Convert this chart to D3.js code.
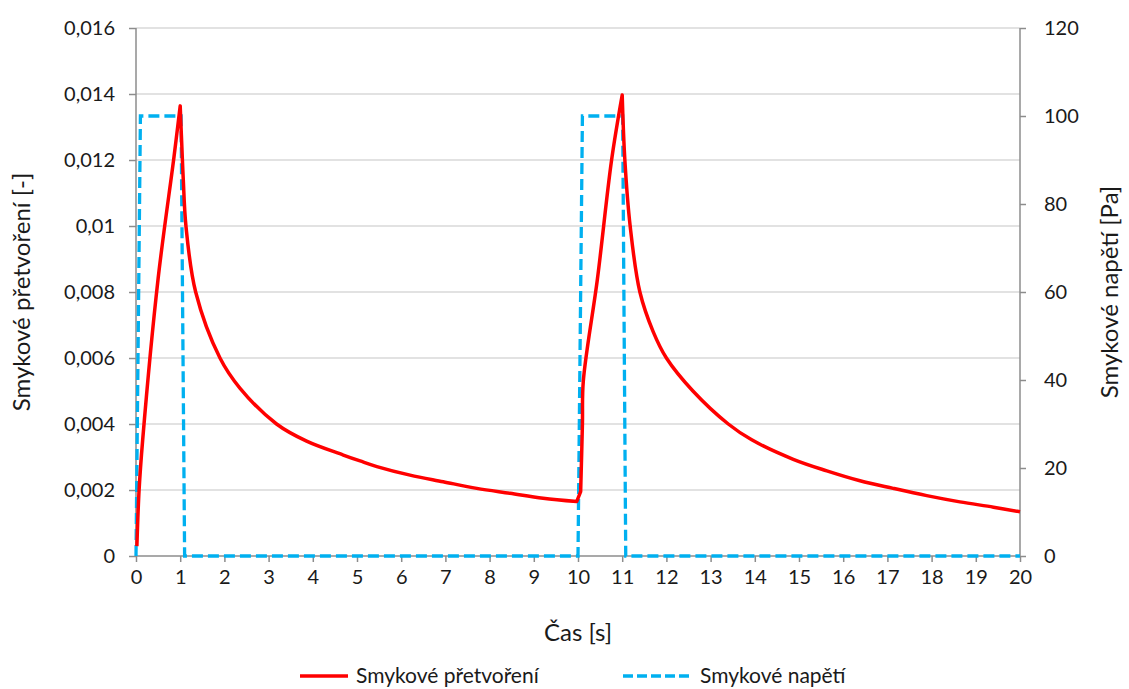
<!DOCTYPE html>
<html>
<head>
<meta charset="utf-8">
<script src="https://cdn.jsdelivr.net/npm/d3@7"></script>
<style>
  body { margin: 0; background: #fff; }
  text { font-family: Lato, "Open Sans", sans-serif; fill: #1a1a1a; }
</style>
</head>
<body>
<svg id="chart"></svg>
<script>
// strain readings [time s, strain -]
const strainTime = [0.02, 0.07, 0.15, 0.5, 0.86, 1.0, 1.05, 1.07, 1.13, 1.35, 1.9, 2.35, 3.18, 3.86, 4.69, 5.07, 5.45, 6.2, 6.95, 7.71, 8.46, 9.21, 9.97,
  10.06, 10.1, 10.12, 10.44, 10.76, 11.0, 11.06, 11.18, 11.4, 11.7, 12.0, 12.6, 13.4, 13.93, 14.87, 15.63, 16.38, 17.13, 17.89, 18.64, 19.4, 20];
const strainValues = [0.0003, 0.002, 0.0035, 0.0084, 0.0121, 0.01364, 0.012, 0.0114, 0.01, 0.008, 0.006, 0.00509, 0.004, 0.00348, 0.00306, 0.00288, 0.00271, 0.00245, 0.00225, 0.00205, 0.0019, 0.00175, 0.00165,
  0.00195, 0.004, 0.0053, 0.0084, 0.012, 0.01397, 0.012, 0.01, 0.008, 0.0068, 0.006, 0.005, 0.004, 0.00352, 0.00293, 0.00258, 0.00228, 0.00205, 0.00183, 0.00164, 0.00148, 0.00134];
// indices where the curve has a corner (peaks, start of second load)
const strainBreaks = [5, 22, 23, 28];

// stress readings [time s, stress Pa]
const stressTime = [0, 0.1, 1.02, 1.1, 10.0, 10.1, 11.01, 11.08, 20];
const stressValues = [0, 100, 100, 0, 0, 100, 100, 0, 0];

const xTicks = d3.range(0, 21, 1);
const leftTicks = [0, 0.002, 0.004, 0.006, 0.008, 0.01, 0.012, 0.014, 0.016];
const rightTicks = [0, 20, 40, 60, 80, 100, 120];

const width = 1129;
const height = 689;
const margin = { left: 136, right: 109, top: 28, bottom: 133 };

const svg = d3.select('#chart')
    .attr('width', width)
    .attr('height', height);

const x = d3.scaleLinear().domain([0, 20]).range([margin.left, width - margin.right]);
const yL = d3.scaleLinear().domain([0, 0.016]).range([height - margin.bottom, margin.top]);
const yR = d3.scaleLinear().domain([0, 120]).range([height - margin.bottom, margin.top]);

const fmt = d => d3.format('')(d).replace('.', ',');

// gridlines
svg.append('g')
    .selectAll('line')
    .data(leftTicks.slice(1))
    .enter()
    .append('line')
    .attr('x1', x(0)).attr('x2', x(20))
    .attr('y1', d => yL(d)).attr('y2', d => yL(d))
    .attr('stroke', '#d9d9d9')
    .attr('stroke-width', 1.3);

// axes
const xAxis = d3.axisBottom(x).tickValues(xTicks).tickSize(6).tickPadding(8).tickFormat(d => d);
const leftAxis = d3.axisLeft(yL).tickValues(leftTicks).tickSize(7).tickPadding(14).tickFormat(fmt);
const rightAxis = d3.axisRight(yR).tickValues(rightTicks).tickSize(6).tickPadding(18).tickFormat(d => d);

function styleAxis(g) {
    g.select('.domain').attr('stroke', '#8c8c8c').attr('stroke-width', 1.5);
    g.selectAll('.tick line').attr('stroke', '#8c8c8c').attr('stroke-width', 1.5);
    g.selectAll('.tick text').style('font-size', '20px').attr('fill', '#1a1a1a');
}

svg.append('g')
    .attr('transform', `translate(0,${height - margin.bottom})`)
    .call(xAxis)
    .call(styleAxis)
    .call(g => g.select('.domain').attr('d', `M${x(0)},0H${x(20)}`));

svg.append('g')
    .attr('transform', `translate(${margin.left},0)`)
    .call(leftAxis)
    .call(styleAxis)
    .call(g => g.select('.domain').attr('d', `M0,${yL(0)}V${yL(0.016)}`));

svg.append('g')
    .attr('transform', `translate(${width - margin.right},0)`)
    .call(rightAxis)
    .call(styleAxis)
    .call(g => g.select('.domain').attr('d', `M0,${yR(0)}V${yR(120)}`));

// stress line (dashed)
const stressData = stressTime.map((t, i) => [t, stressValues[i]]);
svg.append('path')
    .datum(stressData)
    .attr('fill', 'none')
    .attr('stroke', '#00b0f0')
    .attr('stroke-width', 3.3)
    .attr('stroke-dasharray', '11,5')
    .attr('d', d3.line().x(d => x(d[0])).y(d => yR(d[1])));

// strain line, smoothed piece by piece between the corners
const strainData = strainTime.map((t, i) => [t, strainValues[i]]);
const strainLine = d3.line()
    .curve(d3.curveCatmullRom.alpha(0.5))
    .x(d => x(d[0]))
    .y(d => yL(d[1]));
const cuts = [0, ...strainBreaks, strainData.length - 1];
let strainPath = '';
for (let i = 0; i < cuts.length - 1; i++) {
    const piece = strainLine(strainData.slice(cuts[i], cuts[i + 1] + 1));
    strainPath += i === 0 ? piece : piece.replace(/^M/, 'L');
}
svg.append('path')
    .attr('fill', 'none')
    .attr('stroke', '#ff0000')
    .attr('stroke-width', 3.5)
    .attr('stroke-linejoin', 'round')
    .attr('d', strainPath);

// axis titles
svg.append('text')
    .attr('x', (x(0) + x(20)) / 2)
    .attr('y', 641)
    .attr('text-anchor', 'middle')
    .style('font-size', '24px')
    .text('Čas [s]');

svg.append('text')
    .attr('transform', `translate(30,${(yL(0) + yL(0.016)) / 2}) rotate(-90)`)
    .attr('text-anchor', 'middle')
    .style('font-size', '24px')
    .text('Smykové přetvoření [-]');

svg.append('text')
    .attr('transform', `translate(1118,${(yL(0) + yL(0.016)) / 2}) rotate(-90)`)
    .attr('text-anchor', 'middle')
    .style('font-size', '24px')
    .text('Smykové napětí [Pa]');

// legend
const legend = svg.append('g').attr('transform', 'translate(0,676)');
legend.append('line')
    .attr('x1', 300).attr('x2', 348).attr('y1', 0).attr('y2', 0)
    .attr('stroke', '#ff0000').attr('stroke-width', 3.5);
legend.append('text')
    .attr('x', 356).attr('y', 7)
    .style('font-size', '21px')
    .text('Smykové přetvoření');
legend.append('line')
    .attr('x1', 623).attr('x2', 692).attr('y1', 0).attr('y2', 0)
    .attr('stroke', '#00b0f0').attr('stroke-width', 3.3)
    .attr('stroke-dasharray', '10,4');
legend.append('text')
    .attr('x', 700).attr('y', 7)
    .style('font-size', '21px')
    .text('Smykové napětí');
</script>
</body>
</html>
